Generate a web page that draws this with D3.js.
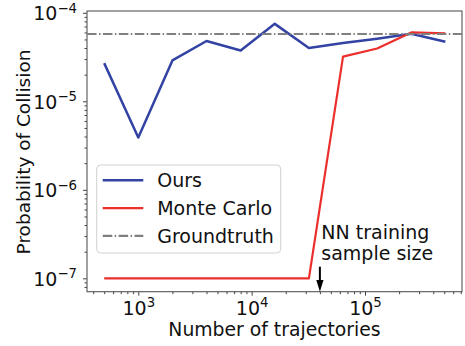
<!DOCTYPE html>
<html>
<head>
<meta charset="utf-8">
<script src="https://cdn.jsdelivr.net/npm/d3@7"></script>
<style>
  body { margin: 0; background: #fff; }
  svg { font-family: "DejaVu Sans", sans-serif; }
</style>
</head>
<body>
<div id="chart"></div>
<script>
// data
var trajectories = [500, 1000, 2000, 4000, 8000, 16000, 32000, 64000, 128000, 256000, 512000];
var oursProb = [2.7e-5, 3.9e-6, 2.9e-5, 4.8e-5, 3.75e-5, 7.5e-5, 4.0e-5, 4.55e-5, 5.1e-5, 5.8e-5, 4.7e-5];
var monteCarloProb = [1e-7, 1e-7, 1e-7, 1e-7, 1e-7, 1e-7, 1e-7, 3.2e-5, 3.95e-5, 6.0e-5, 5.85e-5];
var groundtruthProb = 5.75e-5;
var nnSampleSize = 40000;

var xTicks = [1e3, 1e4, 1e5];
var xTickExps = ["3", "4", "5"];
var yTicks = [1e-7, 1e-6, 1e-5, 1e-4];
var yTickExps = ["\u22127", "\u22126", "\u22125", "\u22124"];

var seriesNames = ["Ours", "Monte Carlo", "Groundtruth"];

var svgWidth = 465;
var svgHeight = 346;
var margin = { top: 11, right: 3, bottom: 54.3, left: 87 };
var width = svgWidth - margin.left - margin.right;
var height = svgHeight - margin.top - margin.bottom;

var blue = "#3343a3";
var red = "#ec2f2b";
var gray = "#808080";

var svg = d3.select("#chart")
  .append("svg")
  .attr("width", svgWidth)
  .attr("height", svgHeight);

var chartGroup = svg.append("g")
  .attr("transform", `translate(${margin.left}, ${margin.top})`);

// scales (log-log)
var xScale = d3.scaleLog()
  .domain([352.7, 717500])
  .range([0, width]);

var yScale = d3.scaleLog()
  .domain([7.06e-8, 1.048e-4])
  .range([height, 0]);

// minor ticks
var xMinor = [];
[100, 1000, 10000, 100000].forEach(function(dec) {
  for (var k = 2; k <= 9; k++) {
    var v = k * dec;
    if (v >= xScale.domain()[0] && v <= xScale.domain()[1]) xMinor.push(v);
  }
});
var yMinor = [];
[1e-8, 1e-7, 1e-6, 1e-5].forEach(function(dec) {
  for (var k = 2; k <= 9; k++) {
    var v = k * dec;
    if (v >= yScale.domain()[0] && v <= yScale.domain()[1]) yMinor.push(v);
  }
});

var axisColor = "#444";

chartGroup.append("g")
  .attr("transform", `translate(0, ${height})`)
  .call(d3.axisBottom(xScale).tickValues(xMinor).tickSize(2.5).tickSizeOuter(0).tickFormat(""))
  .call(g => g.select(".domain").remove())
  .call(g => g.selectAll("line").attr("stroke", axisColor));

chartGroup.append("g")
  .call(d3.axisLeft(yScale).tickValues(yMinor).tickSize(2.5).tickSizeOuter(0).tickFormat(""))
  .call(g => g.select(".domain").remove())
  .call(g => g.selectAll("line").attr("stroke", axisColor));

var xAxisG = chartGroup.append("g")
  .attr("transform", `translate(0, ${height})`)
  .call(d3.axisBottom(xScale).tickValues(xTicks).tickSize(4).tickSizeOuter(0).tickFormat(() => ""));
xAxisG.select(".domain").remove();
xAxisG.attr("font-size", 19).attr("font-family", null);
xAxisG.selectAll("line").attr("stroke", axisColor);
xAxisG.selectAll(".tick text").each(function(d, i) {
  var t = d3.select(this).attr("y", 23.3).attr("dy", null).attr("fill", "#111");
  t.append("tspan").text("10");
  t.append("tspan").attr("dy", -7.5).attr("font-size", 13.3).text(xTickExps[i]);
});

var yAxisG = chartGroup.append("g")
  .call(d3.axisLeft(yScale).tickValues(yTicks).tickSize(4).tickSizeOuter(0).tickFormat(() => ""));
yAxisG.select(".domain").remove();
yAxisG.attr("font-size", 19).attr("font-family", null);
yAxisG.selectAll("line").attr("stroke", axisColor);
yAxisG.selectAll(".tick text").each(function(d, i) {
  var t = d3.select(this).attr("x", -10).attr("dy", 7).attr("fill", "#111");
  t.append("tspan").text("10");
  t.append("tspan").attr("dy", -7.5).attr("font-size", 13.3).text(yTickExps[i]);
});

// frame
chartGroup.append("rect")
  .attr("width", width)
  .attr("height", height)
  .attr("fill", "none")
  .attr("stroke", "#555")
  .attr("stroke-width", 1.1);

// lines
var line = d3.line()
  .x(d => xScale(d[0]))
  .y(d => yScale(d[1]));

chartGroup.append("path")
  .datum(trajectories.map((n, i) => [n, oursProb[i]]))
  .attr("d", line)
  .attr("fill", "none")
  .attr("stroke", blue)
  .attr("stroke-width", 2.5)
  .attr("stroke-linejoin", "round");

chartGroup.append("path")
  .datum(trajectories.map((n, i) => [n, monteCarloProb[i]]))
  .attr("d", line)
  .attr("fill", "none")
  .attr("stroke", red)
  .attr("stroke-width", 2.2)
  .attr("stroke-linejoin", "round");

// groundtruth across the whole axis
chartGroup.append("line")
  .attr("x1", 0)
  .attr("x2", width)
  .attr("y1", yScale(groundtruthProb))
  .attr("y2", yScale(groundtruthProb))
  .attr("stroke", gray)
  .attr("stroke-width", 2)
  .attr("stroke-dasharray", "9.6,2.4,1.5,2.4");

// legend
var legend = svg.append("g").attr("transform", "translate(96.7, 165)");
legend.append("rect")
  .attr("width", 184)
  .attr("height", 88)
  .attr("rx", 4)
  .attr("fill", "#fff")
  .attr("fill-opacity", 0.8)
  .attr("stroke", "#d0d0d0")
  .attr("stroke-width", 1);

var legendColors = [blue, red, gray];
var legendDash = [null, null, "9.6,2.4,1.5,2.4"];
seriesNames.forEach(function(name, i) {
  var yy = 15.3 + i * 27.8;
  legend.append("line")
    .attr("x1", 6).attr("x2", 46.6)
    .attr("y1", yy).attr("y2", yy)
    .attr("stroke", legendColors[i])
    .attr("stroke-width", i == 0 ? 2.5 : 2.2)
    .attr("stroke-dasharray", legendDash[i]);
  legend.append("text")
    .attr("x", 60.5)
    .attr("y", yy + 6.8)
    .attr("font-size", 19)
    .attr("fill", "#111")
    .text(name);
});

// NN training annotation
var ax = xScale(nnSampleSize);
chartGroup.append("line")
  .attr("x1", ax).attr("x2", ax)
  .attr("y1", 255.7).attr("y2", 271)
  .attr("stroke", "#000")
  .attr("stroke-width", 2);
chartGroup.append("path")
  .attr("d", `M${ax - 3.6},${269} L${ax + 3.6},${269} L${ax},${height} Z`)
  .attr("fill", "#000");

var note = chartGroup.append("text")
  .attr("x", ax + 1.4)
  .attr("y", 228.3)
  .attr("font-size", 19)
  .attr("fill", "#111");
note.append("tspan").attr("x", ax + 1.4).text("NN training");
note.append("tspan").attr("x", ax + 1.4).attr("dy", 20.3).text("sample size");

// axis labels
svg.append("text")
  .attr("transform", `translate(30, 152) rotate(-90)`)
  .attr("text-anchor", "middle")
  .attr("font-size", 18.5)
  .attr("fill", "#111")
  .text("Probability of Collision");

svg.append("text")
  .attr("x", margin.left + width / 2)
  .attr("y", 336)
  .attr("text-anchor", "middle")
  .attr("font-size", 18.8)
  .attr("fill", "#111")
  .text("Number of trajectories");
</script>
</body>
</html>
